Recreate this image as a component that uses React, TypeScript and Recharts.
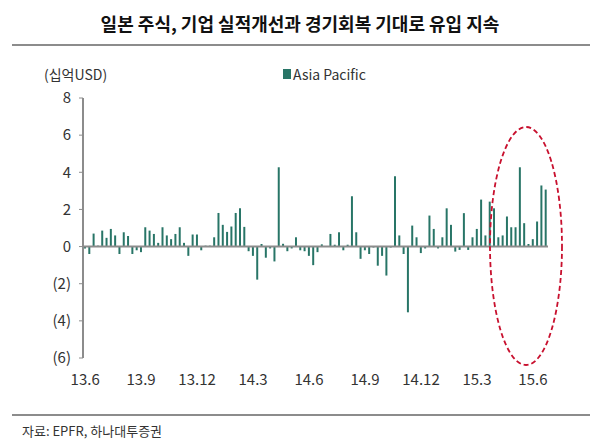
import React from "react";
import { BarChart, Bar, XAxis, YAxis, ReferenceLine } from "recharts";

// weekly net flows, bn USD, from Jun 2013
const FLOWS = [
  -0.1, -0.4, 0.7, 0.05, 0.86, 0.47, 0.95, 0.6, -0.4, 0.77, 0.57, -0.4, -0.2,
  -0.3, 1.04, 0.86, 0.68, 0.2, 1.04, 0.6, 0.4, 0.68, 1.04, 0.2, -0.5, 0.65,
  0.65, -0.2, 0.05, 0.05, 0.5, 1.81, 1.17, 0.79, 1.08, 1.81, 2.06, 1.06, -0.25,
  -0.5, -1.78, 0.14, -0.6, -0.1, -0.8, 4.27, 0.15, -0.25, -0.1, 0.5, -0.2,
  -0.25, -0.5, -1.0, -0.3, 0.12, 0.02, 0.68, 0.1, 0.77, -0.2, 0.1, 2.71, 0.77,
  -0.66, -0.2, -0.4, -0.05, -1.03, -0.5, -1.56, -0.05, 3.79, 0.6, -0.4, -3.54,
  1.13, 0.5, -0.35, -0.1, 1.67, 0.95, -0.1, 0.5, 2.06, 1.17, -0.27, -0.18, 1.8,
  -0.18, 0.5, 0.95, 2.53, 0.6, 2.42, 2.06, 0.5, 0.6, 1.62, 1.04, 1.04, 4.27,
  1.26, 0.14, 0.4, 1.35, 3.29, 3.07,
];

const TICK_LABELS = [
  "13.6", "13.9", "13.12", "14.3", "14.6", "14.9", "14.12", "15.3", "15.6",
];
const TICK_STEP = 13; // weeks between labels
const Y_TICKS = [-6, -4, -2, 0, 2, 4, 6, 8];

const BAR_COLOR = "#287567";
const FONT = "'Noto Sans CJK KR', 'Noto Sans', sans-serif";

document.body.style.margin = "0";

const data = FLOWS.map((v, i) => ({ week: i, flow: v }));

const fmtY = (v: number) => (v < 0 ? `(${-v})` : `${v}`);
const fmtX = (i: number) =>
  i % TICK_STEP === 0 ? TICK_LABELS[i / TICK_STEP] ?? "" : "";

export default function App() {
  return (
    <div
      style={{
        position: "relative",
        width: 600,
        height: 445,
        background: "#fff",
        fontFamily: FONT,
        color: "#333",
      }}
    >
      <div
        style={{
          position: "absolute",
          top: 10,
          left: 0,
          width: 600,
          textAlign: "center",
          fontSize: 18,
          fontWeight: 700,
          color: "#111",
        }}
      >
        일본 주식, 기업 실적개선과 경기회복 기대로 유입 지속
      </div>
      <div
        style={{
          position: "absolute",
          top: 44,
          left: 12,
          width: 578,
          height: 2,
          background: "#8c8c8c",
        }}
      />
      <div style={{ position: "absolute", top: 64, left: 44, fontSize: 14 }}>
        (십억USD)
      </div>
      <div
        style={{
          position: "absolute",
          top: 64,
          left: 283,
          fontSize: 14,
          display: "flex",
          alignItems: "center",
        }}
      >
        <span
          style={{
            display: "inline-block",
            width: 8,
            height: 10,
            background: BAR_COLOR,
            marginRight: 2,
          }}
        />
        Asia Pacific
      </div>

      <BarChart
        width={600}
        height={445}
        data={data}
        margin={{ top: 98, right: 52, bottom: 57, left: 33 }}
        barCategoryGap={1}
        style={{ position: "absolute", top: 0, left: 0 }}
      >
        <XAxis
          dataKey="week"
          interval={TICK_STEP - 1}
          tickFormatter={fmtX}
          axisLine={false}
          tickLine={false}
          tickMargin={10}
          height={30}
          tick={{ fill: "#333", fontSize: 15, fontFamily: FONT }}
        />
        <YAxis
          domain={[-6, 8]}
          ticks={Y_TICKS}
          tickFormatter={fmtY}
          width={50}
          axisLine={{ stroke: "#8c8c8c", strokeWidth: 2 }}
          tickLine={{ stroke: "#8c8c8c" }}
          tickSize={4}
          tickMargin={8}
          tick={{ fill: "#333", fontSize: 15, fontFamily: FONT }}
        />
        <ReferenceLine y={0} stroke="#8c8c8c" strokeWidth={2} />
        <Bar
          dataKey="flow"
          fill={BAR_COLOR}
          barSize={2}
          isAnimationActive={false}
        />
      </BarChart>

      <svg
        width={600}
        height={445}
        style={{ position: "absolute", top: 0, left: 0, pointerEvents: "none" }}
      >
        <ellipse
          cx={526}
          cy={246}
          rx={36}
          ry={119}
          fill="none"
          stroke="#c8102e"
          strokeWidth={1.8}
          strokeDasharray="5 3"
        />
      </svg>

      <div
        style={{
          position: "absolute",
          top: 414,
          left: 12,
          width: 578,
          height: 2,
          background: "#8c8c8c",
        }}
      />
      <div style={{ position: "absolute", top: 421, left: 22, fontSize: 13 }}>
        자료: EPFR, 하나대투증권
      </div>
    </div>
  );
}
